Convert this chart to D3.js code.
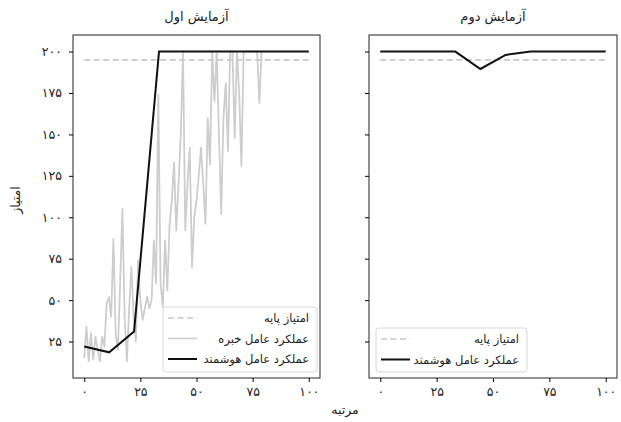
<!DOCTYPE html>
<html>
<head>
<meta charset="utf-8">
<script src="https://cdn.jsdelivr.net/npm/d3@7"></script>
<style>
  body { margin: 0; background: #fff; }
  text { font-family: "DejaVu Sans", sans-serif; fill: #222; }
</style>
</head>
<body>
<div id="canvas"></div>
<script>
// data
const titles = ["آزمایش اول", "آزمایش دوم"];
const xTicks = [0, 25, 50, 75, 100];
const yTicks = [25, 50, 75, 100, 125, 150, 175, 200];
const baseline = 195;
const evalRanks = [0, 11.1, 22.2, 33.3, 44.4, 55.6, 66.7, 77.8, 88.9, 100];
const agentRun1 = [22, 18.5, 31, 200, 200, 200, 200, 200, 200, 200];
const agentRun2 = [200, 200, 200, 200, 189.5, 198, 200, 200, 200, 200];
const expertRun1 = [15, 34, 13, 30, 14, 28, 20, 13, 28, 22,
  48, 52, 40, 87, 30, 20, 60, 105, 40, 13,
  45, 70, 40, 25, 74, 50, 38, 45, 52, 45,
  50, 86, 60, 174, 60, 46, 86, 56, 95, 110,
  133, 92, 120, 150, 200, 92, 120, 142, 70, 100,
  110, 125, 142, 120, 96, 160, 132, 200, 170, 200,
  150, 102, 160, 181, 140, 200, 200, 148, 200, 175,
  131, 200, 200, 200, 200, 200, 200, 200, 169, 200];
const legendLabels = ["امتیاز پایه", "عملکرد عامل خبره", "عملکرد عامل هوشمند"];

const w = 621, h = 422;
const plotTop = 35, plotBottom = 378;
const panels = [
  {left: 73, right: 320, agent: agentRun1, expert: expertRun1, showY: true},
  {left: 369, right: 617, agent: agentRun2, expert: null, showY: false}
];

const fa = s => String(s).replace(/\d/g, d => "۰۱۲۳۴۵۶۷۸۹"[d]);

const svg = d3.select("#canvas").append("svg")
  .attr("width", w).attr("height", h);

const y = d3.scaleLinear().domain([3, 210]).range([plotBottom, plotTop]);

panels.forEach((p, pi) => {
  const x = d3.scaleLinear().domain([-5, 105]).range([p.left, p.right]);
  const g = svg.append("g");

  const line = d3.line().x(d => x(d[0])).y(d => y(d[1]));

  // baseline
  g.append("line")
    .attr("x1", x(0)).attr("x2", x(100))
    .attr("y1", y(baseline)).attr("y2", y(baseline))
    .attr("stroke", "#c8c8c8").attr("stroke-width", 1.6)
    .attr("stroke-dasharray", "6,3.5");

  if (p.expert) {
    g.append("path")
      .datum(p.expert.map((v, i) => [i, v]))
      .attr("d", line)
      .attr("fill", "none").attr("stroke", "#cdcdcd").attr("stroke-width", 1.8)
      .attr("stroke-linejoin", "round");
  }

  g.append("path")
    .datum(evalRanks.map((r, i) => [r, p.agent[i]]))
    .attr("d", line)
    .attr("fill", "none").attr("stroke", "#111").attr("stroke-width", 2);

  // frame
  g.append("rect")
    .attr("x", p.left).attr("y", plotTop)
    .attr("width", p.right - p.left).attr("height", plotBottom - plotTop)
    .attr("fill", "none").attr("stroke", "#222").attr("stroke-width", 1);

  const xAxis = g.append("g")
    .attr("transform", `translate(0,${plotBottom})`)
    .call(d3.axisBottom(x).tickValues(xTicks).tickSize(4).tickPadding(5).tickFormat(fa));
  xAxis.select(".domain").remove();
  xAxis.selectAll("text").style("font-size", "12.5px").style("font-family", "DejaVu Sans");

  const yAxis = g.append("g")
    .attr("transform", `translate(${p.left},0)`)
    .call(d3.axisLeft(y).tickValues(yTicks).tickSize(4).tickPadding(7)
      .tickFormat(p.showY ? fa : ""));
  yAxis.select(".domain").remove();
  yAxis.selectAll("text").style("font-size", "12.5px").style("font-family", "DejaVu Sans");

  g.append("text")
    .attr("x", (p.left + p.right) / 2).attr("y", 21)
    .attr("text-anchor", "middle").style("font-size", "13px")
    .text(titles[pi]);

  // legend
  const items = p.expert
    ? [{label: legendLabels[0], color: "#c8c8c8", dash: "6,3.5"},
       {label: legendLabels[1], color: "#cdcdcd", dash: null},
       {label: legendLabels[2], color: "#111", dash: null}]
    : [{label: legendLabels[0], color: "#c8c8c8", dash: "6,3.5"},
       {label: legendLabels[2], color: "#111", dash: null}];
  const lg = p.expert
    ? {x: 163, y: 307, w: 154, h: 65}
    : {x: 376, y: 328, w: 151, h: 44};
  const leg = g.append("g");
  leg.append("rect")
    .attr("x", lg.x).attr("y", lg.y).attr("width", lg.w).attr("height", lg.h)
    .attr("rx", 3).attr("fill", "rgba(255,255,255,0.85)")
    .attr("stroke", "#d6d6d6").attr("stroke-width", 1);
  items.forEach((it, i) => {
    const cy = lg.y + 11 + i * 20.5;
    leg.append("line")
      .attr("x1", lg.x + 5).attr("x2", lg.x + 34)
      .attr("y1", cy).attr("y2", cy)
      .attr("stroke", it.color).attr("stroke-width", it.color === "#111" ? 2 : 1.6)
      .attr("stroke-dasharray", it.dash);
    leg.append("text")
      .attr("x", lg.x + lg.w - 8).attr("y", cy + 4)
      .attr("text-anchor", "end").style("font-size", "11.5px")
      .text(it.label);
  });
});

svg.append("text")
  .attr("x", 345).attr("y", 414)
  .attr("text-anchor", "middle").style("font-size", "12.5px")
  .text("مرتبه");

svg.append("text")
  .attr("transform", "translate(20,200) rotate(-90)")
  .attr("text-anchor", "middle").style("font-size", "12.5px")
  .text("امتیاز");
</script>
</body>
</html>
